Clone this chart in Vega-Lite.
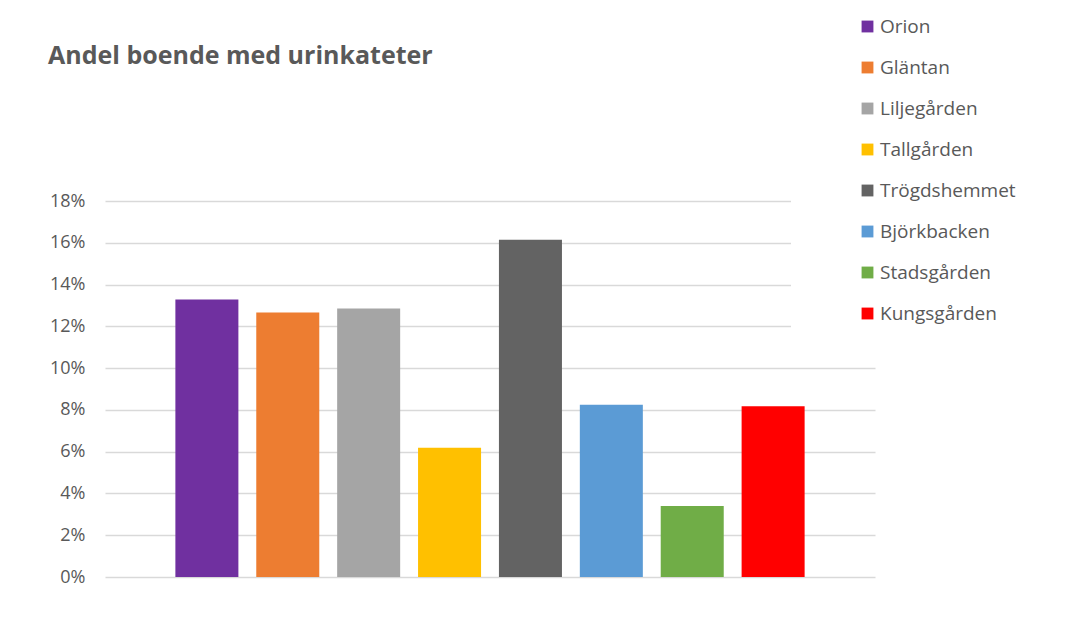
{
  "$schema": "https://vega.github.io/schema/vega-lite/v6.json",
  "width": 770,
  "height": 376,
  "autosize": {"type": "none"},
  "padding": {"left": 105, "top": 201, "right": 203, "bottom": 42},
  "background": "white",
  "title": {
    "text": "Andel boende med urinkateter",
    "anchor": "start",
    "frame": "group",
    "font": "Open Sans",
    "fontSize": 25,
    "fontWeight": "bold",
    "color": "#595959",
    "baseline": "alphabetic",
    "dx": -57,
    "offset": -78
  },
  "data": {
    "values": [
      {"boende": "Orion", "andel": 0.1329},
      {"boende": "Gläntan", "andel": 0.1266},
      {"boende": "Liljegården", "andel": 0.1285},
      {"boende": "Tallgården", "andel": 0.0619},
      {"boende": "Trögdshemmet", "andel": 0.1615},
      {"boende": "Björkbacken", "andel": 0.0825},
      {"boende": "Stadsgården", "andel": 0.034},
      {"boende": "Kungsgården", "andel": 0.0817}
    ]
  },
  "mark": {"type": "bar"},
  "encoding": {
    "x": {
      "field": "boende",
      "type": "nominal",
      "sort": null,
      "scale": {"paddingInner": 0.221, "paddingOuter": 0.87},
      "axis": null
    },
    "y": {
      "field": "andel",
      "type": "quantitative",
      "scale": {"domain": [0, 0.18], "nice": false},
      "axis": {
        "title": null,
        "format": ".0%",
        "values": [0, 0.02, 0.04, 0.06, 0.08, 0.1, 0.12, 0.14, 0.16, 0.18],
        "domain": false,
        "ticks": false,
        "grid": true,
        "gridColor": "#d9d9d9",
        "gridWidth": 1.3,
        "labelColor": "#595959",
        "labelFont": "Open Sans",
        "labelFontSize": 18,
        "labelPadding": 20
      }
    },
    "color": {
      "field": "boende",
      "type": "nominal",
      "sort": null,
      "scale": {
        "domain": ["Orion", "Gläntan", "Liljegården", "Tallgården", "Trögdshemmet", "Björkbacken", "Stadsgården", "Kungsgården"],
        "range": ["#7030A0", "#ED7D31", "#A5A5A5", "#FFC000", "#636363", "#5B9BD5", "#70AD47", "#FF0000"]
      },
      "legend": {
        "title": null,
        "orient": "none",
        "legendX": 686,
        "legendY": -190,
        "padding": 6,
        "fillColor": "white",
        "symbolOffset": 61,
        "symbolType": "square",
        "symbolSize": 140,
        "symbolStrokeWidth": 0,
        "labelFont": "Open Sans",
        "labelFontSize": 19,
        "labelColor": "#595959",
        "labelOffset": 3,
        "rowPadding": 21
      }
    }
  },
  "config": {"view": {"stroke": null}}
}
